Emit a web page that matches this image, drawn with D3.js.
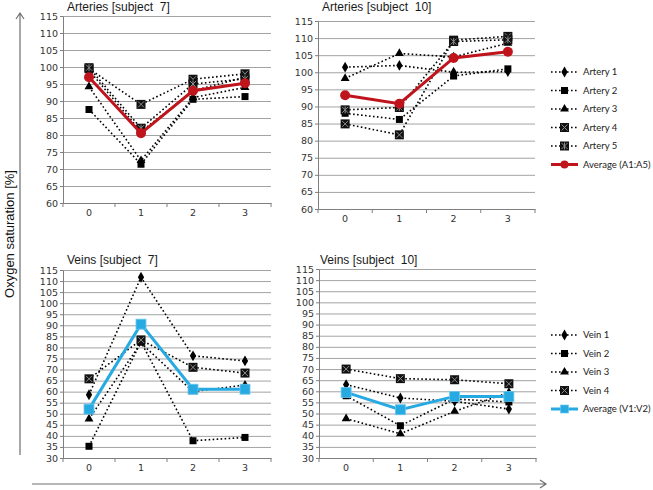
<!DOCTYPE html>
<html lang="en">
<head>
<meta charset="UTF-8">
<script src="https://d3js.org/d3.v7.min.js"></script>
<style>
  body { margin: 0; background: #fff; }
  svg { display: block; font-family: "Liberation Sans", Arial, sans-serif; }
</style>
</head>
<body>
<div id="chart"></div>
<script>
// ---------- data ----------
const categories = ["0", "1", "2", "3"];
const arteryTicks = [60, 65, 70, 75, 80, 85, 90, 95, 100, 105, 110, 115];
const veinTicks = [30, 35, 40, 45, 50, 55, 60, 65, 70, 75, 80, 85, 90, 95, 100, 105, 110, 115];

const arteryNames = ["Artery 1", "Artery 2", "Artery 3", "Artery 4", "Artery 5", "Average (A1:A5)"];
const veinNames = ["Vein 1", "Vein 2", "Vein 3", "Vein 4", "Average (V1:V2)"];

// rows follow arteryNames order
const arteriesSubject7 = [
  [99.0, 81.0, 93.0, 97.0],
  [87.5, 71.4, 90.5, 91.3],
  [94.2, 72.5, 91.0, 94.0],
  [99.5, 89.0, 96.4, 98.0],
  [99.8, 82.0, 95.0, 96.5],
  [97.0, 80.5, 93.0, 95.2]
];
const arteriesSubject10 = [
  [101.5, 102.0, 100.0, 100.2],
  [88.0, 86.2, 98.9, 101.0],
  [98.2, 105.5, 104.5, 108.5],
  [84.9, 81.7, 109.4, 110.5],
  [89.0, 89.7, 109.0, 109.5],
  [93.3, 90.8, 104.2, 106.0]
];
// rows follow veinNames order
const veinsSubject7 = [
  [58.6, 111.7, 76.2, 73.9],
  [35.3, 82.5, 37.8, 39.3],
  [47.7, 82.0, 60.0, 63.0],
  [65.8, 83.4, 71.0, 68.4],
  [52.1, 90.5, 61.1, 61.1]
];
const veinsSubject10 = [
  [63.0, 57.0, 55.5, 52.0],
  [58.0, 44.5, 56.5, 55.2],
  [47.7, 40.9, 51.0, 59.5],
  [70.0, 65.7, 65.2, 63.4],
  [59.5, 51.7, 57.7, 57.7]
];

// ---------- setup ----------
const width = 653, height = 490;
const svg = d3.select("#chart").append("svg")
  .attr("width", width)
  .attr("height", height);

const markerTypes = ["diamond", "square", "triangle", "squareX", "squareStar"];
const red = "#c0141c";
const blue = "#27aae1";

// draw one marker at 0,0 inside a group
const drawMarker = (g, type, color) => {
  if (type === "diamond") {
    g.append("path").attr("d", d3.symbol(d3.symbolDiamond, 34)()).attr("fill", "#000");
  } else if (type === "square") {
    g.append("rect").attr("x", -3.5).attr("y", -3.5).attr("width", 7).attr("height", 7).attr("fill", "#000");
  } else if (type === "triangle") {
    g.append("path").attr("d", d3.symbol(d3.symbolTriangle, 34)()).attr("fill", "#000");
  } else if (type === "squareX" || type === "squareStar") {
    g.append("rect").attr("x", -4.5).attr("y", -4.5).attr("width", 9).attr("height", 9).attr("fill", "#111");
    const s = 3;
    g.append("path")
      .attr("d", `M${-s},${-s}L${s},${s}M${-s},${s}L${s},${-s}` + (type === "squareStar" ? `M0,${-s - 0.5}L0,${s + 0.5}` : ""))
      .attr("stroke", "#8c8c8c").attr("stroke-width", 1);
  } else if (type === "circle") {
    g.append("circle").attr("r", 5).attr("fill", color);
  } else if (type === "blueSquare") {
    g.append("rect").attr("x", -5).attr("y", -5).attr("width", 10).attr("height", 10)
      .attr("fill", color).attr("stroke", "#6cc7ee").attr("stroke-width", 0.8);
  }
};

const drawPanel = (p) => {
  const g = svg.append("g");
  const x = d3.scaleBand().domain(categories).range([p.x0, p.x1]);
  const y = d3.scaleLinear().domain(d3.extent(p.ticks)).range([p.y1, p.y0]);

  // grid lines
  g.append("g")
    .attr("transform", `translate(${p.x0},0)`)
    .call(d3.axisLeft(y).tickValues(p.ticks).tickSize(-(p.x1 - p.x0)).tickFormat(""))
    .call(a => a.select(".domain").remove())
    .selectAll("line").attr("stroke", "#a3a3a3").attr("stroke-width", 1);

  // y axis
  const ya = g.append("g")
    .attr("transform", `translate(${p.x0},0)`)
    .call(d3.axisLeft(y).tickValues(p.ticks).tickSize(3).tickPadding(2).tickSizeOuter(0));
  ya.select(".domain").attr("stroke", "#7f7f7f");
  ya.selectAll(".tick line").attr("stroke", "#7f7f7f");
  ya.selectAll("text").attr("font-family", "DejaVu Sans").attr("font-size", 9.5).attr("fill", "#333");

  // x axis
  const xa = g.append("g")
    .attr("transform", `translate(0,${p.y1})`)
    .call(d3.axisBottom(x).tickSize(0).tickPadding(6).tickSizeOuter(0));
  xa.select(".domain").attr("stroke", "#7f7f7f");
  xa.selectAll("text").attr("font-family", "DejaVu Sans").attr("font-size", 9.5).attr("fill", "#333");
  const bounds = categories.map(c => x(c)).concat([p.x1]);
  xa.selectAll(".bound").data(bounds).enter().append("line")
    .attr("x1", d => d).attr("x2", d => d)
    .attr("y1", 0).attr("y2", 4)
    .attr("stroke", "#7f7f7f");

  // title
  g.append("text")
    .attr("x", p.tx).attr("y", p.ty)
    .attr("font-size", 12).attr("fill", "#1a1a1a")
    .style("white-space", "pre")
    .text(p.title);

  const line = d3.line()
    .x((d, i) => x(categories[i]) + x.bandwidth() / 2)
    .y(d => y(d));

  p.data.forEach((row, k) => {
    const isAvg = k === p.data.length - 1;
    g.append("path")
      .attr("d", line(row))
      .attr("fill", "none")
      .attr("stroke", isAvg ? p.avgColor : "#000")
      .attr("stroke-width", isAvg ? 3 : 1.6)
      .attr("stroke-dasharray", isAvg ? null : "1.6,2.4");
    row.forEach((v, i) => {
      const m = g.append("g")
        .attr("transform", `translate(${x(categories[i]) + x.bandwidth() / 2},${y(v)})`);
      drawMarker(m, isAvg ? p.avgMarker : markerTypes[k], p.avgColor);
    });
  });
};

const drawLegend = (names, x0, yStart, step, avgColor, avgMarker) => {
  const lg = svg.append("g");
  names.forEach((name, k) => {
    const isAvg = k === names.length - 1;
    const yy = yStart + k * step;
    lg.append("line")
      .attr("x1", x0).attr("x2", x0 + 27)
      .attr("y1", yy).attr("y2", yy)
      .attr("stroke", isAvg ? avgColor : "#000")
      .attr("stroke-width", isAvg ? 3 : 1.6)
      .attr("stroke-dasharray", isAvg ? null : "1.6,2.4");
    const m = lg.append("g").attr("transform", `translate(${x0 + 13.5},${yy})`);
    drawMarker(m, isAvg ? avgMarker : markerTypes[k], avgColor);
    if (isAvg) m.attr("transform", `translate(${x0 + 13.5},${yy}) scale(0.8)`);
    lg.append("text")
      .attr("x", x0 + 32).attr("y", yy + 3.3)
      .attr("font-family", "Lato, sans-serif")
      .attr("font-size", 9.5).attr("fill", "#222")
      .text(name);
  });
};

drawPanel({ title: "Arteries [subject  7]", tx: 67, ty: 11, x0: 63, x1: 271, y0: 16, y1: 203,
  ticks: arteryTicks, data: arteriesSubject7, avgColor: red, avgMarker: "circle" });
drawPanel({ title: "Arteries [subject  10]", tx: 322, ty: 11, x0: 318, x1: 535, y0: 21, y1: 209,
  ticks: arteryTicks, data: arteriesSubject10, avgColor: red, avgMarker: "circle" });
drawPanel({ title: "Veins [subject  7]", tx: 67, ty: 264, x0: 63, x1: 271, y0: 270, y1: 458,
  ticks: veinTicks, data: veinsSubject7, avgColor: blue, avgMarker: "blueSquare" });
drawPanel({ title: "Veins [subject  10]", tx: 320, ty: 264, x0: 319, x1: 536, y0: 269, y1: 458,
  ticks: veinTicks, data: veinsSubject10, avgColor: blue, avgMarker: "blueSquare" });

drawLegend(arteryNames, 551, 72, 18.5, red, "circle");
drawLegend(veinNames, 551, 335, 18.5, blue, "blueSquare");

// axis arrows
const arrowColor = "#6e6e6e";
svg.append("path")
  .attr("d", "M20,455L20,13M16,19L20,13L24,19")
  .attr("fill", "none").attr("stroke", arrowColor).attr("stroke-width", 1.2);
svg.append("path")
  .attr("d", "M32,484L546,484M540,480L546,484L540,488")
  .attr("fill", "none").attr("stroke", arrowColor).attr("stroke-width", 1.2);

svg.append("text")
  .attr("transform", "translate(14,234) rotate(-90)")
  .attr("text-anchor", "middle")
  .attr("font-size", 13).attr("fill", "#111")
  .text("Oxygen saturation [%]");
</script>
</body>
</html>
